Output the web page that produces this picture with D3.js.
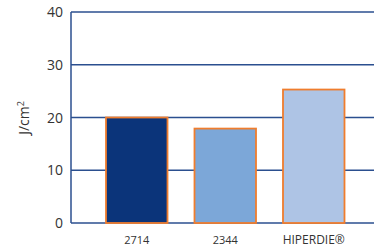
<!DOCTYPE html>
<html>
<head>
<meta charset="utf-8">
<script src="https://cdn.jsdelivr.net/npm/d3@7"></script>
<style>
body { margin: 0; background: #fff; }
text { font-family: "Open Sans", "Noto Sans", sans-serif; }
</style>
</head>
<body>
<script>
var categories = ["2714", "2344", "HIPERDIE®"];
var values = [20, 17.9, 25.3];
var colors = ["#0b347a", "#7ca7d8", "#aec4e5"];
var yTicks = [0, 10, 20, 30, 40];

var width = 374, height = 248;

var svg = d3.select("body").append("svg")
	.attr("width", width)
	.attr("height", height);

var y = d3.scaleLinear().domain([0, 40]).range([223, 12]);

var x = d3.scaleBand().domain(categories).range([106, 344.5])
	.paddingInner(0.305)
	.paddingOuter(0);

// gridlines
svg.selectAll("line.grid")
	.data(yTicks)
	.enter().append("line")
	.attr("class", "grid")
	.attr("x1", 71)
	.attr("x2", width)
	.attr("y1", function(d) { return y(d); })
	.attr("y2", function(d) { return y(d); })
	.attr("stroke", "#2b4f8f")
	.attr("stroke-width", 1.5);

// left axis line
svg.append("line")
	.attr("x1", 71).attr("x2", 71)
	.attr("y1", y(40)).attr("y2", y(0))
	.attr("stroke", "#2b4f8f")
	.attr("stroke-width", 1.5);

svg.selectAll("rect.bar")
	.data(values)
	.enter().append("rect")
	.attr("class", "bar")
	.attr("x", function(d, i) { return x(categories[i]); })
	.attr("y", function(d) { return y(d); })
	.attr("width", x.bandwidth())
	.attr("height", function(d) { return y(0) - y(d); })
	.attr("fill", function(d, i) { return colors[i]; })
	.attr("stroke", "#ef7d2e")
	.attr("stroke-width", 1.8);

// y tick labels
svg.selectAll("text.ytick")
	.data(yTicks)
	.enter().append("text")
	.attr("class", "ytick")
	.attr("x", 63)
	.attr("y", function(d) { return y(d); })
	.attr("dy", "0.36em")
	.attr("text-anchor", "end")
	.attr("font-size", 14)
	.attr("fill", "#333")
	.text(function(d) { return d; });

// x labels
svg.selectAll("text.xtick")
	.data(categories)
	.enter().append("text")
	.attr("class", "xtick")
	.attr("x", function(d) { return x(d) + x.bandwidth() / 2; })
	.attr("y", 244)
	.attr("text-anchor", "middle")
	.attr("font-size", function(d, i) { return i == 2 ? 12 : 11; })
	.attr("fill", "#333")
	.text(function(d) { return d; });

// y axis title
var yl = svg.append("text")
	.attr("transform", "translate(29,118) rotate(-90)")
	.attr("text-anchor", "middle")
	.attr("font-size", 14)
	.attr("fill", "#333");
yl.append("tspan").text("J/cm");
yl.append("tspan").attr("font-size", 9).attr("dy", "-0.6em").text("2");
</script>
</body>
</html>
